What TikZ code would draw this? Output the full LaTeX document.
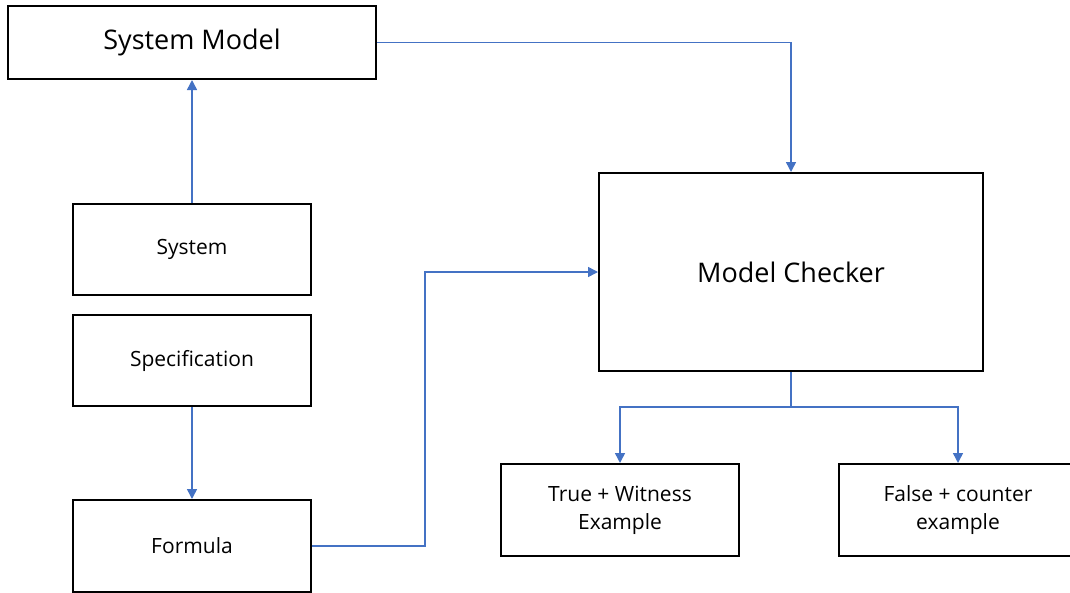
\documentclass[tikz,border=0pt]{standalone}
\usepackage{fontspec}
\setmainfont{Open Sans}
\usetikzlibrary{arrows.meta}
\definecolor{linkblue}{HTML}{4472C4}
\begin{document}
\begin{tikzpicture}[x=1pt,y=-1pt,
  box/.style={draw=black,line width=2pt,fill=white,inner sep=0pt,align=center},
  link/.style={draw=linkblue,line width=1.5pt,-{Triangle[width=10pt,length=10pt]}},
  plain/.style={draw=linkblue,line width=1.5pt},
  bigtxt/.style={font=\fontsize{27}{32}\selectfont},
  smalltxt/.style={font=\fontsize{21}{28}\selectfont}]
\useasboundingbox (0,0) rectangle (1070,592);
\begin{scope}
\clip (0,0) rectangle (1070,592);
% boxes, placed by their centres
\node[box,bigtxt,minimum width=368pt,minimum height=73pt] (sysmodel) at (192,42.5) {System Model};
\node[box,smalltxt,minimum width=238pt,minimum height=91pt] (system) at (192,249.5) {System};
\node[box,smalltxt,minimum width=238pt,minimum height=91pt] (spec) at (192,360.5) {Specification};
\node[box,smalltxt,minimum width=238pt,minimum height=92pt] (formula) at (192,546) {Formula};
\node[box,bigtxt,minimum width=384pt,minimum height=198pt] (checker) at (791,272) {Model Checker};
\node[box,smalltxt,minimum width=238pt,minimum height=92pt] (truebox) at (620,510) {True + Witness\\Example};
\node[box,smalltxt,minimum width=238pt,minimum height=92pt] (falsebox) at (958,510) {False + counter\\example};
% connectors
\draw[link] (system.north) -- (sysmodel.south);
\draw[link] (sysmodel.east) -| (checker.north);
\draw[link] (spec.south) -- (formula.north);
\draw[link] (formula.east) -- (425,546) |- (checker.west);
\coordinate (split) at (791,407);
\draw[plain] (checker.south) -- (split);
\draw[link] (split) -| (truebox.north);
\draw[link] (split) -| (falsebox.north);
\end{scope}
\end{tikzpicture}
\end{document}
